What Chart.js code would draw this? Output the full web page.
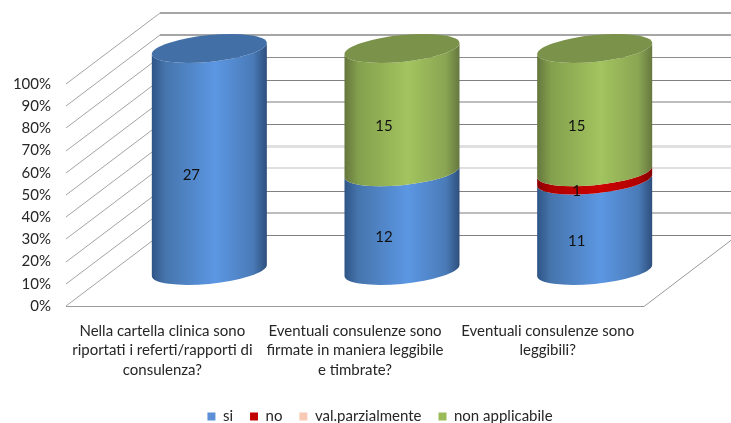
<!DOCTYPE html>
<html>
<head>
<meta charset="utf-8">
<style>
  html, body { margin: 0; padding: 0; background: #fff; }
  canvas { display: block; }
</style>
<script src="https://cdn.jsdelivr.net/npm/chart.js@4"></script>
</head>
<body>
<canvas id="chart" width="731" height="423"></canvas>
<script>
// data
const categories = [
    ['Nella cartella clinica sono', 'riportati i referti/rapporti di', 'consulenza?'],
    ['Eventuali consulenze sono', 'firmate in maniera leggibile', 'e timbrate?'],
    ['Eventuali consulenze sono', 'leggibili?']
];
const si = [27, 12, 11];
const no = [0, 0, 1];
const valParzialmente = [0, 0, 0];
const nonApplicabile = [0, 15, 15];
const seriesNames = ['si', 'no', 'val.parzialmente', 'non applicabile'];
const totals = [27, 27, 27];

// styles
const FONT = 'Lato, "Open Sans", sans-serif';
const TEXT_COLOR = '#262626';
const DEPTH_X = 94;
const DEPTH_Y = 71;
const LEGEND_SHIFT = 58;
const LEGEND_COLORS = ['#5b8fd6', '#c00000', '#f8c9b4', '#9bbb59'];
// gradient stops across the cylinder: edge, shoulder, centre, shoulder, edge
const BODY_STOPS = [
    ['#2f5587', '#4675ad', '#5c97e3', '#4a7bb8', '#2e4f7c'],
    ['#8a0000', '#b00000', '#cc0000', '#b00000', '#860000'],
    ['#c9a08e', '#e8bca8', '#f8c9b4', '#e8bca8', '#c49c8a'],
    ['#65763d', '#83a04d', '#a3c45f', '#8aa552', '#667840']
];
const CAP_COLORS = ['#426fa6', '#a00000', '#d9ae9a', '#7a9249'];
// back wall lines from 0% up to 100% (width, colour), as they look in the picture
const WALL_LINES = [
    [1, '#808080'], [2, '#bdbdbd'], [1, '#808080'], [2, '#e0e0e0'], [3, '#e0e0e0'],
    [1, '#808080'], [2, '#bdbdbd'], [1, '#808080'], [1, '#8c8c8c'], [2, '#a6a6a6'], [2, '#a6a6a6']
];

function toPercent(values) {
    return values.map((v, i) => v / totals[i] * 100);
}

function drawWalls(chart) {
    const ctx = chart.ctx;
    const { left, right } = chart.chartArea;
    const yScale = chart.scales.y;

    ctx.save();
    yScale.ticks.forEach((tick, i) => {
        const y = Math.round(yScale.getPixelForValue(tick.value));
        ctx.strokeStyle = '#a3a3a3';
        ctx.lineWidth = 1;
        ctx.beginPath();
        ctx.moveTo(left, y);
        ctx.lineTo(left + DEPTH_X, y - DEPTH_Y);
        ctx.stroke();

        const [w, color] = WALL_LINES[i];
        const backY = y - DEPTH_Y + (w % 2 ? 0.5 : 0);
        ctx.strokeStyle = color;
        ctx.lineWidth = w;
        ctx.beginPath();
        ctx.moveTo(left + DEPTH_X, backY);
        ctx.lineTo(right + DEPTH_X, backY);
        ctx.stroke();
    });

    // floor
    const floorY = Math.round(yScale.getPixelForValue(0));
    ctx.strokeStyle = '#9a9a9a';
    ctx.lineWidth = 1;
    ctx.beginPath();
    ctx.moveTo(left, floorY + 0.5);
    ctx.lineTo(right, floorY + 0.5);
    ctx.lineTo(right + DEPTH_X, floorY - DEPTH_Y);
    ctx.stroke();
    ctx.restore();
}

function drawCylinders(chart) {
    const ctx = chart.ctx;
    const capRadius = 13.4;
    const skew = 5.5;

    categories.forEach((cat, index) => {
        let topBar = null;
        let topSeries = 0;
        chart.data.datasets.forEach((ds, s) => {
            const bar = chart.getDatasetMeta(s).data[index];
            if (!ds.data[index]) return;
            const cx = bar.x + DEPTH_X / 2;
            const a = bar.width / 2;
            const baseY = bar.base - DEPTH_Y / 2;
            const h = bar.base - bar.y;
            const stops = BODY_STOPS[s];

            ctx.save();
            ctx.transform(1, -skew / a, 0, 1, cx, baseY);
            ctx.beginPath();
            ctx.moveTo(-a, 0);
            ctx.ellipse(0, 0, a, capRadius, 0, Math.PI, 0, true);
            ctx.lineTo(a, -h);
            ctx.ellipse(0, -h, a, capRadius, 0, 0, Math.PI, false);
            ctx.closePath();
            const g = ctx.createLinearGradient(-a, 0, a, 0);
            [0, 0.12, 0.55, 0.88, 1].forEach((p, k) => g.addColorStop(p, stops[k]));
            ctx.fillStyle = g;
            ctx.fill();
            ctx.restore();

            topBar = { cx, a, y: baseY - h };
            topSeries = s;
        });

        if (topBar) {
            ctx.save();
            ctx.transform(1, -skew / topBar.a, 0, 1, topBar.cx, topBar.y);
            ctx.beginPath();
            ctx.ellipse(0, 0, topBar.a, capRadius, 0, 0, Math.PI * 2);
            ctx.fillStyle = CAP_COLORS[topSeries];
            ctx.fill();
            ctx.restore();
        }
    });
}

function drawValueLabels(chart) {
    const ctx = chart.ctx;
    ctx.save();
    ctx.font = '15px ' + FONT;
    ctx.fillStyle = '#111';
    ctx.textAlign = 'center';
    ctx.textBaseline = 'middle';
    chart.data.datasets.forEach((ds, s) => {
        chart.getDatasetMeta(s).data.forEach((bar, i) => {
            if (!ds.counts[i]) return;
            ctx.fillText(ds.counts[i], bar.x + 29, (bar.y + bar.base) / 2 - 20);
        });
    });
    ctx.restore();
}

const cylinderPlugin = {
    id: 'cylinders',
    afterLayout(chart) {
        // legend sits right of the plot centre in the original
        chart.legend.left += LEGEND_SHIFT;
        chart.legend.right += LEGEND_SHIFT;
    },
    beforeDatasetsDraw(chart) {
        drawWalls(chart);
        drawCylinders(chart);
    },
    beforeDatasetDraw() {
        return false; // flat bars replaced by the cylinders
    },
    afterDatasetsDraw(chart) {
        drawValueLabels(chart);
    }
};

const seriesCounts = [si, no, valParzialmente, nonApplicabile];

new Chart(document.getElementById('chart'), {
    type: 'bar',
    data: {
        labels: categories,
        datasets: seriesCounts.map((counts, s) => ({
            label: seriesNames[s],
            data: toPercent(counts),
            counts: counts,
            backgroundColor: LEGEND_COLORS[s],
            borderWidth: 0,
            barPercentage: 0.597,
            categoryPercentage: 1
        }))
    },
    options: {
        responsive: false,
        animation: false,
        layout: { padding: { top: 84, right: 87, left: 0, bottom: -11 } },
        plugins: {
            tooltip: { enabled: false },
            legend: {
                position: 'bottom',
                onClick: null,
                labels: {
                    boxWidth: 8,
                    boxHeight: 8,
                    padding: 17,
                    color: TEXT_COLOR,
                    font: { family: FONT, size: 15 }
                }
            }
        },
        scales: {
            x: {
                stacked: true,
                grid: { display: false },
                border: { display: false },
                afterFit(axis) { axis.height = 86; },
                ticks: {
                    autoSkip: false,
                    maxRotation: 0,
                    padding: 7,
                    color: TEXT_COLOR,
                    font: { family: FONT, size: 15, lineHeight: 1.3 }
                }
            },
            y: {
                stacked: true,
                min: 0,
                max: 100,
                grid: { display: false, drawTicks: false },
                border: { display: false },
                afterFit(axis) { axis.width = 66; },
                ticks: {
                    stepSize: 10,
                    padding: 15,
                    color: TEXT_COLOR,
                    font: { family: FONT, size: 15 },
                    callback: v => v + '%'
                }
            }
        }
    },
    plugins: [cylinderPlugin]
});
</script>
</body>
</html>
